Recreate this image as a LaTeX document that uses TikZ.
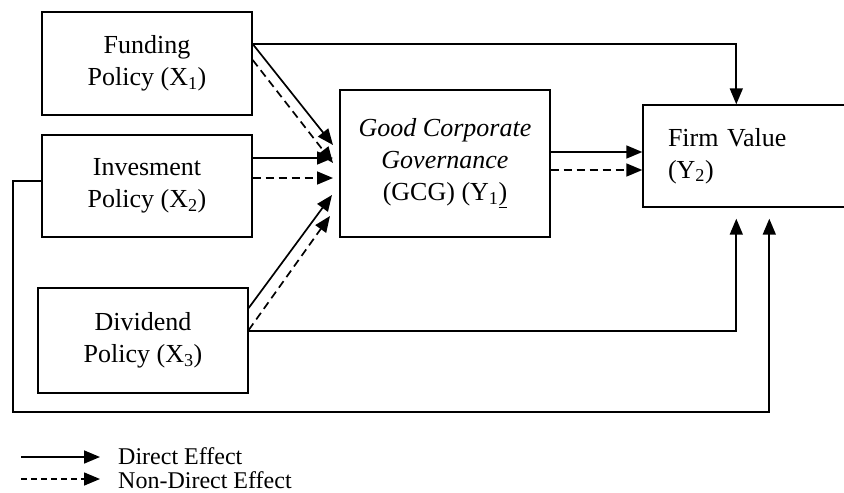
\documentclass[tikz,border=0pt]{standalone}
\usepackage{fontspec}
\setmainfont{Liberation Serif}
\usetikzlibrary{arrows.meta,calc}
\tikzset{
  tip/.style={-{Triangle[length=16pt,width=13pt]}},
  box/.style={draw=black, line width=1.4pt, rectangle, inner sep=0pt, align=center,
    font=\fontsize{26}{32}\selectfont},
  conn/.style={line width=1.7pt, tip},
  dashline/.style={line width=1.7pt, dash pattern=on 8pt off 5pt, tip},
  legtext/.style={anchor=base west, inner sep=0pt, font=\fontsize{24}{28}\selectfont}
}
\begin{document}
\begin{tikzpicture}[x=1pt,y=-1pt]
\useasboundingbox (0,0) rectangle (844,493);
\clip (0,0) rectangle (844,493);
% boxes
\node[box, minimum width=210pt, minimum height=103pt] (f) at (147,63.5) {Funding\\Policy (X\textsubscript{1})};
\node[box, minimum width=210pt, minimum height=102pt] (i) at (147,186) {Invesment\\Policy (X\textsubscript{2})};
\node[box, minimum width=210pt, minimum height=105pt] (d) at (143,340.5) {Dividend\\Policy (X\textsubscript{3})};
\node[box, minimum width=210pt, minimum height=147pt] (g) at (445,163.5) {\textit{Good Corporate}\\\textit{Governance}\\(GCG) (Y\textsubscript{1}\underline{)}};
\node[box, minimum width=207pt, minimum height=102pt, text width=157pt, align=left, inner xsep=25pt] (v) at (746.5,156) {Firm Value\\(Y\textsubscript{2})};
% arrow targets near GCG
\coordinate (t1) at (333,145);
\coordinate (t2) at (333,163);
\coordinate (t3) at (333,158);
\coordinate (t4) at (333,178);
\coordinate (t5) at (332,195);
\coordinate (t6) at (330,216);
% Funding -> Firm value (top)
\draw[conn] ($(f.east)+(0,-19.5)$) -| ($(v.north west)+(94,0)$);
% Funding -> GCG
\draw[conn] ($(f.east)+(0,-19.5)$) -- (t1);
\draw[dashline] ($(f.east)+(0,-3.5)$) -- (t2);
% Investment -> GCG
\draw[conn] ($(i.east)+(0,-28)$) -- (t3);
\draw[dashline] ($(i.east)+(0,-8)$) -- (t4);
% Dividend -> GCG
\draw[conn] ($(d.east)+(0,-32.5)$) -- (t5);
\draw[dashline] ($(d.east)+(0,-10.5)$) -- (t6);
% Dividend -> Firm value
\draw[conn] ($(d.east)+(0,-9.5)$) -| ($(v.south west)+(94,11)$);
% Investment -> Firm value (outer loop)
\coordinate (c1) at (13,181);
\coordinate (c2) at (13,412);
\draw[conn] (i.west |- c1) -- (c1) -- (c2) -| ($(v.south west)+(127,11)$);
% GCG -> Firm value
\draw[conn] ($(g.east)+(0,-11.5)$) -- ($(v.west)+(0,-4)$);
\draw[dashline] ($(g.east)+(0,6.5)$) -- ($(v.west)+(0,14)$);
% legend
\coordinate (l1a) at (21,457);
\coordinate (l1b) at (100,457);
\coordinate (l2a) at (21,479);
\coordinate (l2b) at (100,479);
\draw[conn] (l1a) -- (l1b);
\draw[line width=1.5pt, dash pattern=on 6pt off 4pt, tip] (l2a) -- (l2b);
\node[legtext] (lt1) at (118,464) {Direct Effect};
\node[legtext] (lt2) at (118,488) {Non-Direct Effect};
\end{tikzpicture}
\end{document}
